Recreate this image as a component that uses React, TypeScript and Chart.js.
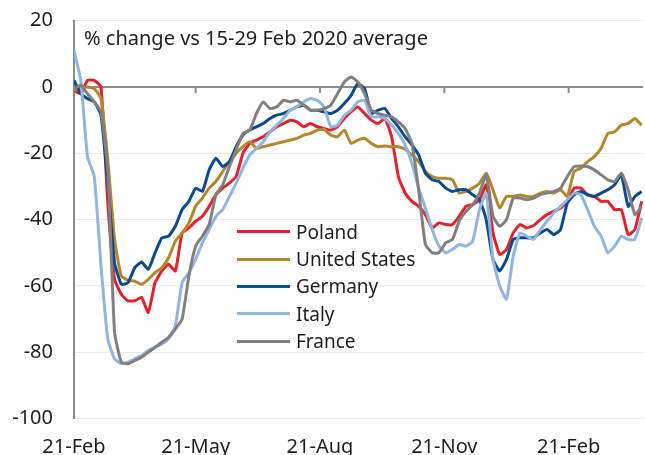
import React, { useEffect, useRef } from "react";
import { Chart, registerables } from "chart.js";

Chart.register(...registerables);

// Day offsets from 21-Feb-2020, sampled every 5 days
const dayStep = 5;
const xMax = 421;
const tickDays = [0, 90, 182, 274, 366];
const tickLabels = ["21-Feb", "21-May", "21-Aug", "21-Nov", "21-Feb"];
const yMin = -100;
const yMax = 20;
const yStep = 20;
const titleText = "% change vs 15-29 Feb 2020 average";

const seriesNames = ["Poland", "United States", "Germany", "Italy", "France"];
const seriesColors = ["#e3222d", "#b5862a", "#0b4a8f", "#8fb6e0", "#808080"];

const poland = [
  -1, -2, 2, 2, 0, -35, -58, -62.5, -64.5, -64.5, -63.5, -68, -59, -55.5, -53.5, -55.5,
  -44, -42.5, -40.5, -39, -36, -32.5, -30.5, -29, -27, -20, -17, -16, -15, -13.5, -12, -11,
  -10, -10.5, -12, -11, -12, -12.5, -13, -12, -9.5, -7.5, -6, -8, -10, -11, -9.5, -15,
  -27, -32, -34.5, -36, -38.5, -42.5, -41, -41.5, -41.5, -39, -36, -35.5, -34, -29.5, -44, -50.5,
  -49, -44, -41.5, -42.5, -41.8, -40, -38.5, -37.5, -36.5, -34.5, -30.5, -30.5, -32.5, -33, -34.5, -34.5,
  -37, -37, -44.5, -43, -34.5,
];

const unitedStates = [
  -1, -0.5, 0, -0.5, -3.5, -22, -46, -57, -58.3, -58.6, -59.5, -58, -56, -54.5, -51.5, -46.5,
  -44, -41, -36, -33.5, -30.5, -28.5, -25.5, -22.5, -20, -18, -16.5, -18.5, -18, -17.5, -17, -16.5,
  -16, -15.5, -14.5, -14, -13, -12.8, -14.5, -15, -13, -17, -16, -15.5, -17, -18, -17.8, -18,
  -18, -18.8, -20.5, -22.5, -25.5, -27, -27.5, -27.5, -28, -32, -31.5, -30.5, -29, -26, -31, -36.5,
  -33, -33, -32.6, -33, -33, -32, -31.5, -32, -31, -33, -25.5, -24.5, -22.5, -21, -18.5, -14,
  -13.5, -11.5, -11, -9.5, -11.5,
];

const germany = [
  2, -2, -3.5, -4.5, -8.5, -29, -53, -59.5, -59, -54.5, -52.8, -55, -50, -45.5, -45, -42,
  -37, -34.5, -30.5, -31.5, -25, -21.5, -24, -22.5, -18, -14.5, -13, -12, -11, -9.5, -8.5, -8,
  -7, -6, -5.5, -7, -7, -7.5, -8, -7, -5, -2.5, 1, -0.5, -8, -7, -6.5, -9.5,
  -12, -15, -17.5, -20.5, -26, -28, -28.5, -30.5, -31.5, -31, -31, -32.5, -34, -40, -52, -55.5,
  -52, -46, -45.5, -45.5, -45.5, -44, -43, -44.5, -43, -35, -32.5, -31.5, -32.5, -33, -32, -31,
  -29.5, -26.5, -36, -33, -31.5,
];

const italy = [
  11, 2, -21, -27, -54, -76, -82, -83.5, -83, -82, -81, -79.5, -78.5, -77.5, -76, -72,
  -59, -56, -52, -47, -43, -39, -37, -33, -29, -24.5, -20.5, -18.5, -16.5, -13.5, -11.5, -9.5,
  -7, -6, -4.5, -3.5, -4, -6, -12, -11.5, -8.5, -7, -4.5, -4, -9, -9, -9.5, -11.5,
  -14, -17.5, -23, -30.5, -36.5, -43, -48, -50, -49, -47.5, -48, -46.5, -37, -32, -52, -60,
  -64, -51, -44, -45, -46, -43, -40.5, -38, -36, -34, -32, -32.5, -37, -42, -45, -50,
  -48, -45, -46, -46, -39.5,
];

const france = [
  -0.5, 0.5, -2, -4.5, -7.5, -25, -74, -83, -83.5, -82.5, -81.5, -80, -78.5, -77, -75.5, -73,
  -70, -57, -48, -45, -41.5, -32.5, -29.5, -24, -19, -14, -13, -8, -4.5, -6.5, -6, -4,
  -4.5, -4, -5.5, -7, -7, -6.5, -5.5, -2, 1.5, 3, 1.5, -2, -7, -8, -8.5, -9,
  -10.5, -12.5, -17, -31, -47.5, -50, -50, -47, -46, -40.5, -37.5, -35.5, -32, -26.5, -39, -42,
  -40, -33.5, -33.5, -34, -33.5, -32.5, -32, -31.5, -30.5, -27, -24, -23.8, -24, -25, -26.5, -28,
  -28.5, -26, -31, -38.5, -36,
];

const seriesValues = [poland, unitedStates, germany, italy, france];

const FONT = "'Noto Sans', 'DejaVu Sans', sans-serif";
const TEXT_COLOR = "#1e1e1e";
const AXIS_COLOR = "#8c8c8c";

export default function App() {
  const canvasRef = useRef<HTMLCanvasElement | null>(null);

  useEffect(() => {
    document.body.style.margin = "0";
    const canvas = canvasRef.current;
    if (!canvas) return;

    const datasets = seriesNames
      .map((name, i) => ({
        label: name,
        data: seriesValues[i].map((v, j) => ({ x: j * dayStep, y: v })),
        borderColor: seriesColors[i],
        backgroundColor: seriesColors[i],
        borderWidth: 3,
        pointRadius: 0,
        tension: 0.15,
        fill: false,
      }))
      .reverse();

    const zeroAxis = {
      id: "zeroAxis",
      beforeDatasetsDraw(chart: any) {
        const { ctx, chartArea, scales } = chart;
        const x = scales.x;
        const y = scales.y;
        const y0 = y.getPixelForValue(0);
        ctx.save();
        ctx.strokeStyle = AXIS_COLOR;
        ctx.lineWidth = 2;
        ctx.beginPath();
        ctx.moveTo(chartArea.left, y0);
        ctx.lineTo(chartArea.right, y0);
        tickDays.forEach((d) => {
          if (d === 0) return;
          const px = x.getPixelForValue(d);
          ctx.moveTo(px, y0);
          ctx.lineTo(px, y0 + 6);
        });
        ctx.stroke();
        ctx.restore();
      },
    };

    const chart = new Chart(canvas, {
      type: "line",
      data: { datasets },
      options: {
        animation: false,
        responsive: false,
        devicePixelRatio: 1,
        layout: { padding: { left: 0, right: 2, top: 20.7, bottom: 0 } },
        plugins: {
          legend: { display: false },
          tooltip: { enabled: false },
          title: { display: false },
        },
        scales: {
          x: {
            type: "linear",
            min: 0,
            max: xMax,
            grid: { display: false, drawTicks: false },
            border: { display: false },
            afterBuildTicks: (axis: any) => {
              axis.ticks = tickDays.map((v) => ({ value: v }));
            },
            afterFit: (scale: any) => {
              scale.height = 36.5;
            },
            ticks: {
              autoSkip: false,
              maxRotation: 0,
              padding: 17,
              color: TEXT_COLOR,
              font: { family: FONT, size: 20 },
              callback: (value: any) => {
                const idx = tickDays.indexOf(Number(value));
                return idx >= 0 ? tickLabels[idx] : "";
              },
            },
          },
          y: {
            min: yMin,
            max: yMax,
            grid: {
              drawTicks: true,
              tickLength: 21,
              tickColor: "rgba(0,0,0,0)",
              color: (c: any) => (c.tick && c.tick.value === 0 ? "rgba(0,0,0,0)" : "#ebebeb"),
              lineWidth: 1,
            },
            border: { display: true, color: AXIS_COLOR, width: 2 },
            afterFit: (scale: any) => {
              scale.width = 74;
            },
            ticks: {
              stepSize: yStep,
              padding: 0,
              color: TEXT_COLOR,
              font: { family: FONT, size: 20 },
            },
          },
        },
      },
      plugins: [zeroAxis],
    });

    return () => chart.destroy();
  }, []);

  return (
    <div style={{ position: "relative", width: 645, height: 455, overflow: "hidden", background: "#fff" }}>
      <canvas ref={canvasRef} width={645} height={455} style={{ width: 645, height: 455, display: "block" }} />
      <div
        style={{
          position: "absolute",
          left: 84,
          top: 25,
          fontFamily: FONT,
          fontSize: 20,
          lineHeight: "26px",
          color: TEXT_COLOR,
          whiteSpace: "nowrap",
        }}
      >
        {titleText}
      </div>
      <div style={{ position: "absolute", left: 237, top: 218, fontFamily: FONT, fontSize: 19, color: TEXT_COLOR }}>
        {seriesNames.map((name, i) => (
          <div key={name} style={{ display: "flex", alignItems: "center", height: 27.4, whiteSpace: "nowrap" }}>
            <span style={{ display: "inline-block", width: 53, height: 3, background: seriesColors[i], marginRight: 6 }} />
            <span>{name}</span>
          </div>
        ))}
      </div>
    </div>
  );
}
